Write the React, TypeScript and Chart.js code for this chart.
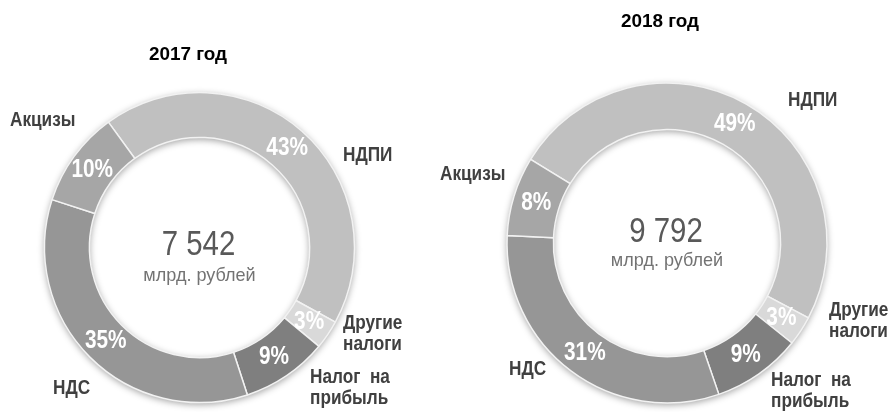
import React, { useEffect, useRef } from 'react';
import { Chart, registerables } from 'chart.js';

Chart.register(...registerables);

// ---- data ----
const categories = ['НДПИ', 'Другие налоги', 'Налог на прибыль', 'НДС', 'Акцизы'];
const categoryLines = [['НДПИ'], ['Другие', 'налоги'], ['Налог  на', 'прибыль'], ['НДС'], ['Акцизы']];
const shares2017 = [43, 3, 9, 35, 10];
const shares2018 = [49, 3, 9, 31, 8];
const yearTitles = ['2017 год', '2018 год'];
const totalValues = ['7 542', '9 792'];
const unitLabel = 'млрд. рублей';

// ---- style ----
const sliceColors = ['#c0c0c0', '#d9d9d9', '#7f7f7f', '#969696', '#a6a6a6'];
const FONT = '"Liberation Sans", Arial, Helvetica, sans-serif';
const W = 893;
const H = 412;

// ---- layout (per panel) ----
const panels = [
  {
    shares: shares2017,
    title: yearTitles[0],
    total: totalValues[0],
    padLeft: 0,
    padRight: 494,
    padTop: 83,
    radius: 155,
    rotation: -36,
    titleOffset: [-11.5, -192.5],
    valueDy: -2,
    unitDy: 30,
    labelOffsets: [
      [143.5, -92.5],
      [143.5, 75.5],
      [110.5, 129.5],
      [-146.5, 140.5],
      [-189.5, -127.5],
    ],
  },
  {
    shares: shares2018,
    title: yearTitles[1],
    total: totalValues[1],
    padLeft: 441,
    padRight: 0,
    padTop: 74,
    radius: 160,
    rotation: -58.5,
    titleOffset: [-7, -221],
    valueDy: -10.5,
    unitDy: 20,
    labelOffsets: [
      [121, -143],
      [162, 67],
      [104, 137],
      [-158, 126],
      [-227, -69],
    ],
  },
];

function drawText(
  ctx: CanvasRenderingContext2D,
  text: string,
  x: number,
  y: number,
  font: string,
  color: string,
  align: CanvasTextAlign,
  scaleX: number
) {
  ctx.save();
  ctx.font = font;
  ctx.fillStyle = color;
  ctx.textAlign = align;
  ctx.textBaseline = 'middle';
  ctx.translate(x, y);
  ctx.scale(scaleX, 1);
  ctx.fillText(text, 0, 0);
  ctx.restore();
}

function DonutPanel({ panel }: { panel: (typeof panels)[number] }) {
  const ref = useRef<HTMLCanvasElement | null>(null);

  useEffect(() => {
    const canvas = ref.current;
    if (!canvas) return;

    const shadowPlugin = {
      id: 'ringShadow',
      beforeDatasetsDraw(chart: any) {
        const meta = chart.getDatasetMeta(0);
        const arc = meta.data[0];
        if (!arc) return;
        const { x, y, outerRadius, innerRadius } = arc.getProps(
          ['x', 'y', 'outerRadius', 'innerRadius'],
          true
        );
        const ctx: CanvasRenderingContext2D = chart.ctx;
        ctx.save();
        ctx.beginPath();
        ctx.arc(x, y, outerRadius, 0, Math.PI * 2);
        ctx.moveTo(x + innerRadius, y);
        ctx.arc(x, y, innerRadius, 0, Math.PI * 2, true);
        ctx.closePath();
        ctx.shadowColor = 'rgba(0,0,0,0.38)';
        ctx.shadowBlur = 7;
        ctx.shadowOffsetY = 2;
        ctx.fillStyle = '#9a9a9a';
        ctx.fill();
        ctx.restore();
      },
    };

    const textPlugin = {
      id: 'donutText',
      afterDatasetsDraw(chart: any) {
        const ctx: CanvasRenderingContext2D = chart.ctx;
        const meta = chart.getDatasetMeta(0);
        const arcs = meta.data;
        if (!arcs.length) return;
        const cx = arcs[0].x;
        const cy = arcs[0].y;
        const values = chart.data.datasets[0].data as number[];

        // percentages inside slices
        arcs.forEach((arc: any, i: number) => {
          const p = arc.tooltipPosition(true);
          drawText(ctx, `${values[i]}%`, p.x, p.y, `bold 26px ${FONT}`, '#ffffff', 'center', 0.8);
        });

        // category labels outside
        const labels = chart.data.labels as string[];
        labels.forEach((_lab: string, i: number) => {
          const lines = categoryLines[i];
          const [dx, dy] = panel.labelOffsets[i];
          lines.forEach((line, j) => {
            const lower = j > 0 ? -1.5 : 0;
            drawText(
              ctx,
              line,
              cx + dx,
              cy + dy + j * 23 + lower,
              `bold 20px ${FONT}`,
              '#404040',
              'left',
              0.86
            );
          });
        });

        // title
        drawText(
          ctx,
          panel.title,
          cx + panel.titleOffset[0],
          cy + panel.titleOffset[1],
          `bold 18px ${FONT}`,
          '#000000',
          'center',
          1.05
        );

        // centre total
        drawText(ctx, panel.total, cx - 1, cy + panel.valueDy, `35px ${FONT}`, '#595959', 'center', 0.84);
        drawText(ctx, unitLabel, cx, cy + panel.unitDy - 2, `19px ${FONT}`, '#737373', 'center', 0.95);
      },
    };

    const chart = new Chart(canvas, {
      type: 'doughnut',
      data: {
        labels: categories,
        datasets: [
          {
            data: panel.shares,
            backgroundColor: sliceColors,
            borderColor: '#f2f2f2',
            borderWidth: 1.5,
            radius: panel.radius,
          } as any,
        ],
      },
      options: {
        responsive: false,
        animation: false,
        cutout: '71%',
        rotation: panel.rotation,
        layout: {
          padding: { left: panel.padLeft, right: panel.padRight, top: panel.padTop, bottom: 0 },
        },
        plugins: {
          legend: { display: false },
          tooltip: { enabled: false },
          title: { display: false },
        },
      } as any,
      plugins: [shadowPlugin, textPlugin],
    });

    return () => {
      chart.destroy();
    };
  }, [panel]);

  return (
    <div style={{ position: 'absolute', left: 0, top: 0, width: W, height: H }}>
      <canvas
        ref={ref}
        width={W}
        height={H}
        style={{ width: W, height: H, display: 'block' }}
      />
    </div>
  );
}

export default function App() {
  return (
    <div
      style={{
        position: 'absolute',
        left: 0,
        top: 0,
        width: W,
        height: H,
        background: '#ffffff',
        overflow: 'hidden',
      }}
    >
      {panels.map((p, i) => (
        <DonutPanel key={i} panel={p} />
      ))}
    </div>
  );
}
